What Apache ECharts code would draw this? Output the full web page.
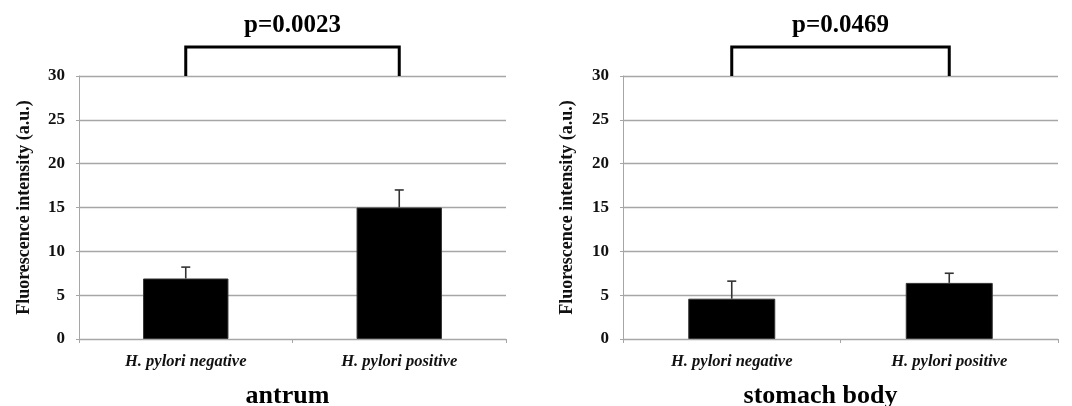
<!DOCTYPE html>
<html>
<head>
<meta charset="utf-8">
<script src="https://cdn.jsdelivr.net/npm/echarts@6/dist/echarts.min.js"></script>
<style>html,body{margin:0;padding:0;background:#fff;}#c{width:1072px;height:406px;}</style>
</head>
<body>
<div id="c"></div>
<script>
const categories = ['H. pylori negative', 'H. pylori positive'];
const panelTitles = ['antrum', 'stomach body'];
const antrumMeans = [6.9, 15.0];
const antrumErrTop = [8.2, 17.0];
const bodyMeans = [4.6, 6.4];
const bodyErrTop = [6.6, 7.5];
const pValues = ['p=0.0023', 'p=0.0469'];
const yMin = 0, yMax = 30, yStep = 5;
const bracketBase = 30, bracketTop = 33.3;

const serif = '"Liberation Serif", "DejaVu Serif", serif';
const gridColor = '#a6a6a6';

const grids = [
  {left: 79, right: 566, top: 76, bottom: 67, outerBoundsMode: 'none', containLabel: false},
  {left: 623, right: 14, top: 76, bottom: 67, outerBoundsMode: 'none', containLabel: false}
];
const titlePad = [[0, 10, 0, 0], [0, 40, 0, 0]];
const nameGaps = [46, 47];

function xAxisFor(i) {
  return {
    type: 'category', gridIndex: i, data: categories,
    axisLine: {lineStyle: {color: gridColor, width: 1}},
    axisTick: {show: true, length: 4, lineStyle: {color: gridColor}},
    axisLabel: {fontFamily: serif, fontStyle: 'italic', fontWeight: 'bold', fontSize: 16.5, color: '#111', margin: 14},
    name: panelTitles[i], nameLocation: 'middle', nameGap: 44,
    nameTextStyle: {fontFamily: serif, fontWeight: 'bold', fontSize: 26, color: '#000', padding: titlePad[i]}
  };
}
function yAxisFor(i) {
  return {
    type: 'value', gridIndex: i, min: yMin, max: yMax, interval: yStep,
    axisLine: {show: true, lineStyle: {color: gridColor, width: 1}},
    axisTick: {show: true, length: 3, lineStyle: {color: gridColor}},
    splitLine: {lineStyle: {color: gridColor, width: 1.3}},
    axisLabel: {fontFamily: serif, fontWeight: 'bold', fontSize: 17, color: '#111', margin: 14},
    name: 'Fluorescence intensity (a.u.)', nameLocation: 'middle', nameGap: nameGaps[i],
    nameTextStyle: {fontFamily: serif, fontWeight: 'bold', fontSize: 18, color: '#111'}
  };
}

function barSeries(i, means) {
  return {
    type: 'bar', xAxisIndex: i, yAxisIndex: i, data: means,
    barCategoryGap: '60%',
    itemStyle: {color: '#000', borderColor: '#333', borderWidth: 1},
    z: 3
  };
}

function errSeries(i, means, tops) {
  return {
    type: 'custom', xAxisIndex: i, yAxisIndex: i,
    data: means.map((m, k) => [k, m, tops[k]]),
    clip: false, z: 4,
    renderItem: function (params, api) {
      const base = api.coord([api.value(0), api.value(1)]);
      const top = api.coord([api.value(0), api.value(2)]);
      const st = {stroke: '#333', lineWidth: 1.6};
      return {type: 'group', children: [
        {type: 'line', shape: {x1: base[0], y1: base[1], x2: top[0], y2: top[1]}, style: st},
        {type: 'line', shape: {x1: top[0] - 4.5, y1: top[1], x2: top[0] + 4.5, y2: top[1]}, style: st}
      ]};
    }
  };
}

function bracketSeries(i) {
  return {
    type: 'custom', xAxisIndex: i, yAxisIndex: i,
    data: [[0, 1, bracketBase, bracketTop]],
    clip: false, z: 5,
    renderItem: function (params, api) {
      const a0 = api.coord([api.value(0), api.value(2)]);
      const a1 = api.coord([api.value(0), api.value(3)]);
      const b1 = api.coord([api.value(1), api.value(3)]);
      const b0 = api.coord([api.value(1), api.value(2)]);
      return {type: 'group', children: [
        {type: 'polyline', shape: {points: [a0, a1, b1, b0]},
         style: {stroke: '#000', lineWidth: 3, fill: null, lineJoin: 'miter'}},
        {type: 'text', style: {text: pValues[i], x: (a1[0] + b1[0]) / 2, y: a1[1] - 22,
          align: 'center', verticalAlign: 'middle', fill: '#000',
          fontFamily: serif, fontWeight: 'bold', fontSize: 25}}
      ]};
    }
  };
}

const chart = echarts.init(document.getElementById('c'), null, {renderer: 'canvas'});
chart.setOption({
  animation: false,
  backgroundColor: '#fff',
  grid: grids,
  xAxis: [xAxisFor(0), xAxisFor(1)],
  yAxis: [yAxisFor(0), yAxisFor(1)],
  series: [
    barSeries(0, antrumMeans), errSeries(0, antrumMeans, antrumErrTop), bracketSeries(0),
    barSeries(1, bodyMeans), errSeries(1, bodyMeans, bodyErrTop), bracketSeries(1)
  ]
});
</script>
</body>
</html>
